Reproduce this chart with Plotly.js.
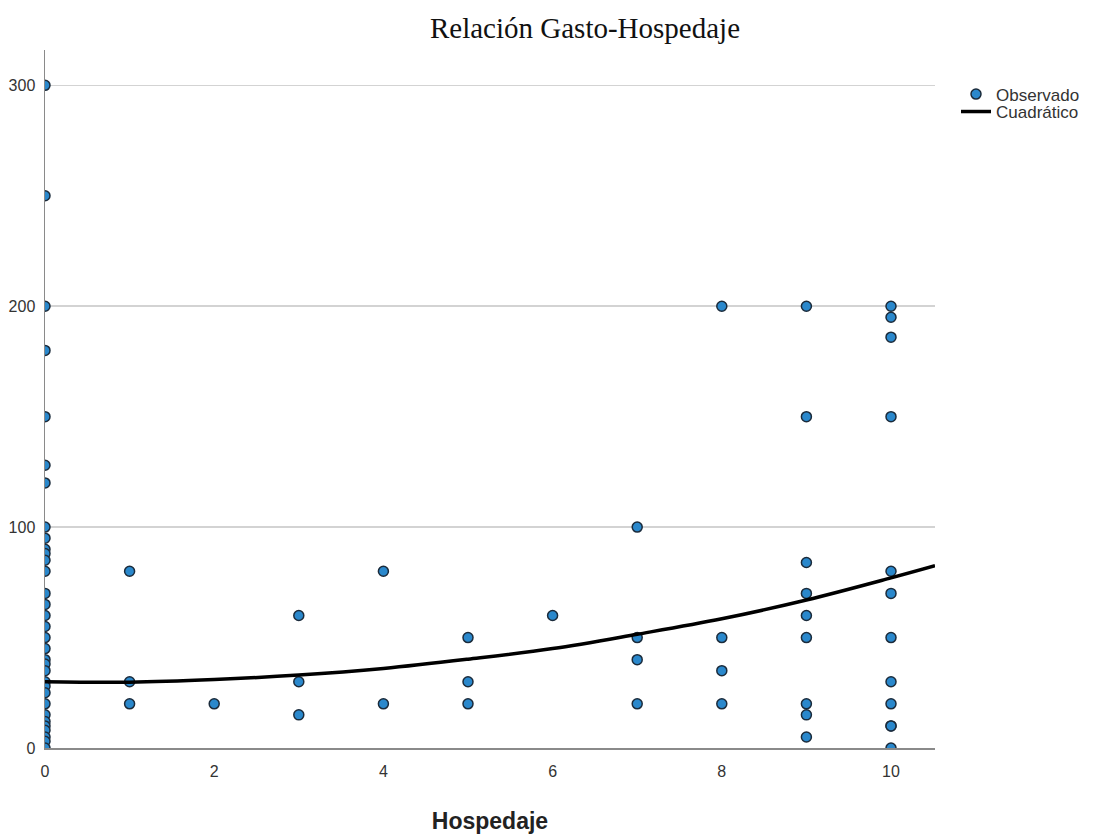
<!DOCTYPE html>
<html>
<head>
<meta charset="utf-8">
<script src="https://cdn.plot.ly/plotly-3.0.1.min.js"></script>
<style>html,body{margin:0;padding:0;background:#fff;}#chart{width:1093px;height:836px;}</style>
</head>
<body>
<div id="chart"></div>
<script>
// Observed points: Hospedaje (x) and Gasto (y)
const obsX0 = [0,0,0,0,0,0,0,0,0,0,0,0,0,0,0,0,0,0,0,0,0,0,0,0,0,0,0,0,0,0,0,0,0];
const obsY0 = [300,250,200,180,150,128,120,100,95,90,88,85,80,70,65,60,55,50,45,40,38,35,30,28,25,20,15,12,10,8,5,3,0];
const obsX1 = [1,1,1, 2, 3,3,3, 4,4, 5,5,5, 6, 7,7,7,7, 8,8,8,8];
const obsY1 = [80,30,20, 20, 60,30,15, 80,20, 50,30,20, 60, 100,50,40,20, 200,50,35,20];
const obsX9 = [9,9,9,9,9,9,9,9,9];
const obsY9 = [200,150,84,70,60,50,20,15,5];
const obsX10 = [10,10,10,10,10,10,10,10,10,10,10,10];
const obsY10 = [200,195,186,150,80,70,50,30,20,10,10,0];

// Quadratic fit curve
const fitX = [0,1,2,3,4,5,6,7,8,9,10,10.52];
const fitY = [30,29.8,31,33,36,40.2,45,51.5,58.5,67,77,82.5];

const xTicks = [0,2,4,6,8,10];
const yTicks = [0,100,200,300];

const obsX = obsX0.concat(obsX1, obsX9, obsX10);
const obsY = obsY0.concat(obsY1, obsY9, obsY10);

const traces = [
  {
    x: obsX, y: obsY, type: 'scatter', mode: 'markers', name: 'Observado', legend: 'legend',
    marker: {size: 10, color: '#2a88cc', line: {color: '#1b2b3b', width: 1.5}},
    cliponaxis: true
  },
  {
    x: fitX, y: fitY, type: 'scatter', mode: 'lines', name: 'Cuadrático', legend: 'legend2',
    line: {color: '#000000', width: 3.5, shape: 'spline'}
  }
];

const legendFont = {family: 'Liberation Sans, Arial, sans-serif', size: 17, color: '#333333'};

const layout = {
  width: 1093, height: 836,
  paper_bgcolor: '#ffffff', plot_bgcolor: '#ffffff',
  margin: {l: 45, r: 158, t: 50, b: 88, autoexpand: false},
  font: {family: 'Liberation Sans, Arial, sans-serif', size: 16, color: '#333333'},
  title: {text: 'Relación Gasto-Hospedaje', x: 585/1093, xanchor: 'center', y: 1 - 28/836, yanchor: 'middle',
          font: {family: 'Liberation Serif, Times New Roman, serif', size: 29, color: '#111111'}},
  xaxis: {
    range: [0, 10.52], tickvals: xTicks, ticktext: xTicks.map(String),
    showgrid: false, zeroline: false, showline: true, linecolor: '#8a8a8a', linewidth: 1.5,
    ticks: 'outside', ticklen: 8, tickcolor: 'rgba(0,0,0,0)',
    tickfont: {size: 16, color: '#333333'},
    title: {text: '<b>Hospedaje</b>', standoff: 34, font: {size: 23, color: '#222222'}}
  },
  yaxis: {
    range: [0, 316], tickvals: yTicks, ticktext: yTicks.map(String),
    showgrid: true, gridcolor: '#d3d3d3', gridwidth: 1.5, zeroline: false,
    showline: true, linecolor: '#8a8a8a', linewidth: 1.5,
    ticks: 'outside', ticklen: 5, tickcolor: 'rgba(0,0,0,0)',
    tickfont: {size: 16, color: '#333333'}
  },
  showlegend: true,
  legend: {x: 1.0236, xanchor: 'left', y: 0.962, yanchor: 'top', bgcolor: 'rgba(0,0,0,0)',
           font: legendFont, itemwidth: 30},
  legend2: {x: 1.0236, xanchor: 'left', y: 0.937, yanchor: 'top', bgcolor: 'rgba(0,0,0,0)',
           font: legendFont, itemwidth: 30}
};

Plotly.newPlot('chart', traces, layout, {displayModeBar: false, staticPlot: true});
</script>
</body>
</html>
